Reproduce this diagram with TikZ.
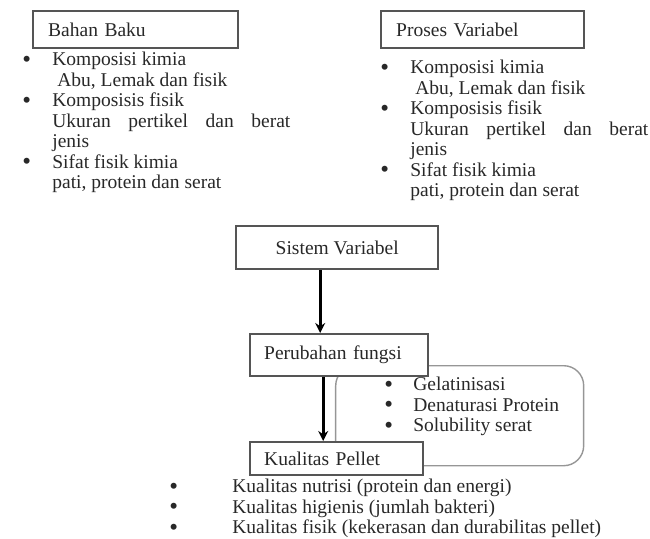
\documentclass[tikz,border=0pt]{standalone}
\usepackage{fontspec}
\setmainfont{Liberation Serif}
\usepackage{tikz}
\usetikzlibrary{arrows.meta,positioning}
\definecolor{inkgray}{RGB}{40,40,40}
\definecolor{framegray}{RGB}{85,85,85}
\definecolor{softgray}{RGB}{150,150,150}
\tikzset{
  basebox/.style={rectangle,draw=framegray,line width=1.2pt,fill=white,text=inkgray,font=\fontsize{9.75}{10.25}\selectfont,anchor=north west},
  leftbox/.style={basebox,align=left,inner xsep=7.5pt},
  midbox/.style={basebox,align=center},
  listnode/.style={anchor=north west,inner sep=0pt,align=left,text=inkgray,font=\fontsize{9.75}{10.25}\selectfont},
  roundframe/.style={rectangle,rounded corners=10pt,draw=softgray,line width=0.7pt,anchor=north west,inner sep=0pt},
  arr/.style={-{Stealth[length=5pt,width=5pt]},line width=1.5pt,color=black}
}
\newcommand{\bul}[1]{\makebox[#1][l]{\raisebox{-0.6pt}{\fontsize{12.5}{10.25}\selectfont\textbullet}}}

\begin{document}
\begin{tikzpicture}[x=0.5pt,y=-0.5pt]
  \useasboundingbox (0,0) rectangle (650,538);

  \node[roundframe,minimum width=124pt,minimum height=50pt] (frame) at (335,365) {};

  \node[leftbox,text width=87.5pt,minimum height=18.5pt] (bahan) at (32,10) {Bahan Baku};
  \node[leftbox,text width=86.5pt,minimum height=18.5pt] (proses) at (380,10) {Proses Variabel};
  \node[midbox,minimum width=101pt,minimum height=21.5pt] (sistem) at (235,225) {Sistem Variabel};
  \node[leftbox,inner xsep=7pt,text width=75pt,minimum height=21pt] (ubah) at (249,333) {Perubahan fungsi};
  \node[leftbox,inner xsep=7pt,text width=72.5pt,minimum height=16.5pt] (pellet) at (249,441) {Kualitas Pellet};

  \node[listnode] (bahanlist) at (22,52)
    {\bul{15pt}Komposisi kimia\\
     \hspace*{17.5pt}Abu, Lemak dan fisik\\
     \bul{15pt}Komposisis fisik\\
     \hspace*{15pt}\makebox[119pt][s]{Ukuran\hfill pertikel\hfill dan\hfill berat}\\
     \hspace*{15pt}jenis\\
     \bul{15pt}Sifat fisik kimia\\
     \hspace*{15pt}pati, protein dan serat};
  \node[listnode] (proseslist) at (380,60)
    {\bul{15pt}Komposisi kimia\\
     \hspace*{17.5pt}Abu, Lemak dan fisik\\
     \bul{15pt}Komposisis fisik\\
     \hspace*{15pt}\makebox[119pt][s]{Ukuran\hfill pertikel\hfill dan\hfill berat}\\
     \hspace*{15pt}jenis\\
     \bul{15pt}Sifat fisik kimia\\
     \hspace*{15pt}pati, protein dan serat};
  \node[listnode] (ubahlist) at (384,377)
    {\bul{14.5pt}Gelatinisasi\\
     \bul{14.5pt}Denaturasi Protein\\
     \bul{14.5pt}Solubility serat};
  \node[listnode] (pelletlist) at (169,479)
    {\bul{31.5pt}Kualitas nutrisi (protein dan energi)\\
     \bul{31.5pt}Kualitas higienis (jumlah bakteri)\\
     \bul{31.5pt}Kualitas fisik (kekerasan dan durabilitas pellet)};

  \draw[arr] ([xshift=-8.5pt]sistem.south) -- ([xshift=-8.5pt]sistem.south |- ubah.north);
  \draw[arr] ([xshift=-8pt]ubah.south) -- ([xshift=-8pt]ubah.south |- pellet.north);
\end{tikzpicture}
\end{document}
